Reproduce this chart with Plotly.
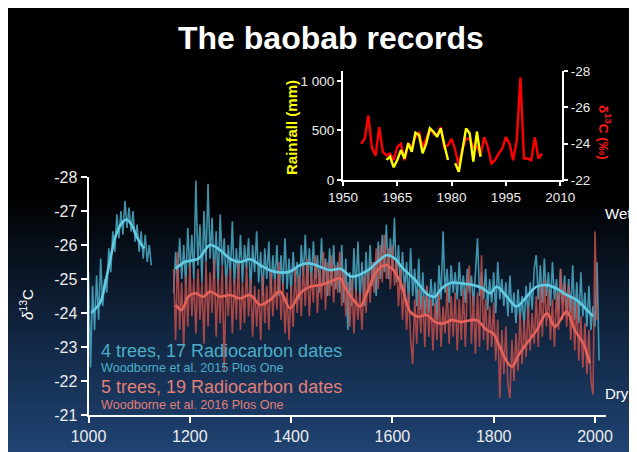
import plotly.graph_objects as go

W, H = 637, 444

# ---------------- DATA ----------------
# main chart: noisy series at 4-year steps
blue_early_start = 1000
blue_early = [-25.2, -22.4, -24.8, -23.5, -25.1, -23.8, -25.6, -24.2, -25.0, -24.6,
              -25.9, -25.2, -26.4, -25.8, -26.9, -26.2, -27.0, -26.3, -27.3, -26.5,
              -27.1, -26.4, -27.0, -26.1, -26.6, -25.8, -26.4, -25.6, -26.3, -25.5,
              -26.0, -25.4]

blue_late_start = 1168
blue_late = [
    -24.6, -25.8, -24.9, -26.2, -25.0, -26.0, -24.8, -26.5, -25.2, -26.3,
    -25.0, -27.9, -25.4, -26.6, -24.9, -27.0, -25.5, -27.8, -25.6, -26.8,
    -25.0, -26.4, -24.8, -26.9, -25.4, -26.2, -24.7, -26.0, -25.1, -26.7,
    -24.8, -25.9, -25.0, -26.3, -24.9, -26.0, -25.3, -26.2, -24.6, -26.0,
    -25.2, -26.4, -24.9, -25.8, -24.5, -25.9, -25.0, -26.1, -24.6, -25.7,
    -24.9, -26.0, -24.5, -25.7, -24.8, -26.2, -24.7, -25.6, -24.6, -25.8,
    -24.9, -25.5, -24.4, -26.0, -25.1, -26.3, -24.8, -25.9, -24.9, -26.1,
    -25.0, -25.7, -24.6, -26.2, -24.9, -25.6, -24.5, -25.9, -24.8, -26.0,
    -24.7, -25.5, -24.6, -26.0, -24.3, -25.6, -23.5, -25.2, -24.2, -25.9,
    -24.6, -26.1, -24.4, -25.5, -24.2, -25.8, -24.6, -26.0, -24.8, -25.5,
    -24.5, -26.1, -25.0, -26.3, -25.2, -26.6, -25.0, -26.2, -25.3, -26.8,
    -24.9, -26.0, -24.7, -25.8, -24.6, -25.5, -24.3, -25.9, -24.5, -25.3,
    -24.2, -25.6, -24.1, -25.2, -23.9, -24.8, -24.0, -25.0, -24.2, -24.9,
    -23.8, -25.4, -24.4, -26.4, -24.6, -25.3, -24.3, -25.4, -24.6, -25.2,
    -24.4, -25.5, -24.5, -25.1, -24.3, -25.3, -24.6, -25.1, -24.2, -25.4,
    -26.2, -24.5, -25.2, -24.4, -25.3, -24.1, -25.0, -24.3, -25.2, -24.0,
    -25.5, -24.4, -25.0, -24.2, -24.9, -23.9, -25.1, -24.0, -24.6, -23.7,
    -24.7, -23.8, -24.5, -23.6, -24.8, -23.9, -24.9, -24.1, -25.3, -25.7,
    -24.4, -25.4, -24.3, -25.6, -24.5, -25.2, -24.2, -25.5, -24.4, -25.0,
    -24.1, -25.3, -24.3, -25.1, -23.9, -25.0, -24.0, -25.4, -23.8, -24.9,
    -23.7, -25.2, -23.9, -24.6, -23.6, -24.8, -23.5, -24.2, -23.6, -25.5,
    -22.6]

red_start = 1168
red_noisy = [
    -25.3, -23.2, -25.8, -23.5, -24.9, -23.0, -25.1, -23.6, -25.4, -23.9,
    -25.0, -23.4, -25.3, -23.8, -24.9, -23.1, -25.5, -23.6, -25.2, -24.0,
    -25.6, -23.3, -25.0, -23.7, -25.4, -22.3, -25.1, -23.9, -25.3, -23.4,
    -25.0, -23.8, -25.5, -23.5, -24.9, -23.7, -25.4, -23.9, -25.0, -23.3,
    -24.8, -23.6, -24.7, -23.2, -25.1, -23.7, -24.8, -23.5, -25.2, -23.9,
    -25.0, -24.1, -25.5, -23.8, -24.9, -23.4, -24.6, -23.2, -24.8, -23.6,
    -25.3, -24.0, -25.1, -23.9, -25.4, -24.2, -25.6, -23.9, -25.2, -24.3,
    -25.7, -24.0, -25.3, -24.4, -25.8, -24.1, -25.5, -24.5, -25.7, -24.3,
    -25.4, -24.6, -25.8, -24.2, -25.3, -23.9, -24.9, -23.6, -25.0, -23.4,
    -24.7, -23.8, -24.6, -23.5, -25.1, -24.0, -25.2, -24.3, -25.5, -24.6,
    -25.9, -24.7, -26.0, -24.9, -26.3, -25.0, -25.9, -24.7, -26.0, -24.8,
    -25.6, -24.2, -25.3, -23.8, -24.9, -23.5, -24.6, -23.2, -22.5, -24.4,
    -23.1, -24.7, -23.4, -24.5, -23.0, -24.8, -23.3, -24.4, -22.9, -24.3,
    -23.2, -24.6, -23.0, -24.2, -23.4, -24.8, -23.1, -24.5, -23.3, -24.6,
    -22.9, -24.4, -23.2, -24.7, -23.0, -24.9, -25.4, -23.1, -24.5, -22.8,
    -24.6, -23.0, -25.7, -23.2, -24.4, -22.9, -24.2, -23.0, -24.3, -22.6,
    -23.8, -21.5, -23.5, -22.2, -23.6, -21.9, -21.5, -23.2, -22.0, -23.4,
    -22.3, -24.0, -22.5, -23.8, -22.7, -24.2, -22.9, -24.0, -23.1, -24.5,
    -23.0, -24.8, -23.3, -25.0, -23.6, -24.7, -23.2, -24.4, -23.0, -24.6,
    -23.5, -25.3, -23.8, -24.9, -23.6, -24.8, -23.2, -24.5, -22.9, -24.3,
    -22.6, -23.9, -22.4, -23.7, -22.2, -23.5, -22.0, -21.6, -26.4, -23.8]

# smoothed curves (hand-read points)
blue_smooth1_years = [1005, 1012, 1023, 1032, 1039, 1046, 1052, 1060, 1066, 1075,
                      1085, 1095, 1105, 1110]
blue_smooth1_vals = [-24.0, -24.1, -24.3, -24.8, -25.3, -25.8, -26.2, -26.5, -26.65, -26.75,
                     -26.6, -26.25, -26.0, -25.9]

blue_smooth2_years = [1172, 1190, 1217, 1240, 1260, 1279, 1299, 1319, 1339, 1358,
                      1378, 1398, 1418, 1437, 1457, 1477, 1497, 1520, 1552, 1570,
                      1589, 1605, 1618, 1645, 1671, 1684, 1697, 1717, 1737, 1760,
                      1779, 1793, 1806, 1826, 1845, 1865, 1884, 1905, 1924, 1944,
                      1964, 1984, 1996]
blue_smooth2_vals = [-25.3, -25.5, -25.6, -26.0, -25.85, -25.6, -25.5, -25.58, -25.41, -25.26,
                     -25.19, -25.22, -25.41, -25.46, -25.36, -25.26, -25.3, -25.07, -25.26, -25.5,
                     -25.7, -25.6, -25.36, -24.97, -24.53, -24.48, -24.72, -24.89, -24.87, -24.82,
                     -24.72, -24.58, -24.77, -24.48, -24.19, -24.48, -24.77, -24.82, -24.72, -24.53,
                     -24.38, -24.09, -23.9]

red_smooth_years = [1172, 1184, 1197, 1210, 1227, 1240, 1260, 1279, 1299, 1319,
                    1339, 1358, 1378, 1398, 1418, 1437, 1457, 1477, 1497, 1506,
                    1526, 1536, 1552, 1569, 1585, 1602, 1618, 1635, 1651, 1668,
                    1684, 1700, 1717, 1737, 1766, 1786, 1799, 1812, 1826, 1836,
                    1849, 1865, 1885, 1905, 1921, 1944, 1960, 1977, 1990]
red_smooth_vals = [-24.24, -24.09, -24.48, -24.58, -24.48, -24.63, -24.48, -24.53, -24.43, -24.53,
                   -24.24, -24.38, -24.63, -24.14, -24.58, -24.77, -24.82, -24.92, -25.02, -24.77,
                   -24.33, -24.19, -24.68, -25.22, -25.41, -25.26, -24.82, -24.04, -23.89, -23.94,
                   -23.74, -23.69, -23.79, -23.74, -23.79, -23.5, -23.4, -23.0, -22.57, -22.42,
                   -22.76, -23.1, -23.5, -23.99, -23.6, -24.04, -23.5, -23.1, -22.52]

main_x_ticks = [1000, 1200, 1400, 1600, 1800, 2000]
main_y_ticks = [-28, -27, -26, -25, -24, -23, -22, -21]
main_y_labels = ["-28", "-27", "-26", "-25", "-24", "-23", "-22", "-21"]

# inset: annual values
inset_red_years = list(range(1955, 2006))
inset_red_d13c = [-24.0, -24.27, -25.55, -23.76, -23.33, -24.91, -23.55, -23.36, -23.45, -23.09,
                  -23.82, -24.0, -23.09, -24.0, -23.82, -24.36, -24.64, -23.82, -24.27, -24.82,
                  -24.55, -24.45, -24.91, -23.82, -23.91, -24.27, -23.64, -22.82, -23.73, -24.27,
                  -24.27, -23.82, -23.82, -23.36, -24.36, -23.82, -22.91, -23.09, -23.45, -23.73,
                  -24.36, -24.0, -23.09, -24.18, -27.64, -23.18, -23.18, -23.09, -24.36, -23.18,
                  -23.45]
inset_rain_years = list(range(1962, 1989))
inset_rain_mm = [202, 236, 128, 202, 302, 218, 370, 286, 477, 454,
                 269, 370, 521, 487, 437, 521, 353, 202, None, 168,
                 84, 302, 521, 470, 185, 487, 235]

inset_x_ticks = [1950, 1965, 1980, 1995, 2010]
inset_rain_ticks = [0, 500, 1000]
inset_rain_labels = ["0", "500", "1 000"]
inset_d13c_ticks = [-28, -26, -24, -22]
inset_d13c_labels = ["-28", "-26", "-24", "-22"]

# ---------------- helpers (screen pixel -> paper; page body has an 8px margin) ----------------
OFF = 8

def px(x):
    return (x - OFF) / W

def py(y):
    return 1 - (y - OFF) / H

FONT = "Liberation Sans, Arial, sans-serif"

blue_early_years = [blue_early_start + 4 * i for i in range(len(blue_early))]
blue_late_years = [blue_late_start + 4 * i for i in range(len(blue_late))]
red_years = [red_start + 4 * i for i in range(len(red_noisy))]

fig = go.Figure()

BLUE_N = "rgba(75,170,196,0.85)"
RED_N = "rgba(196,78,74,0.85)"
BLUE_S = "#62cbe2"
RED_S = "#e4625a"

fig.add_trace(go.Scatter(x=blue_early_years, y=blue_early, mode="lines",
                         line=dict(color=BLUE_N, width=1.6), xaxis="x", yaxis="y"))
fig.add_trace(go.Scatter(x=blue_late_years, y=blue_late, mode="lines",
                         line=dict(color=BLUE_N, width=1.6), xaxis="x", yaxis="y"))
fig.add_trace(go.Scatter(x=red_years, y=red_noisy, mode="lines",
                         line=dict(color=RED_N, width=1.6), xaxis="x", yaxis="y"))
fig.add_trace(go.Scatter(x=blue_smooth1_years, y=blue_smooth1_vals, mode="lines",
                         line=dict(color=BLUE_S, width=2.6, shape="spline"), xaxis="x", yaxis="y"))
fig.add_trace(go.Scatter(x=blue_smooth2_years, y=blue_smooth2_vals, mode="lines",
                         line=dict(color=BLUE_S, width=2.6, shape="spline"), xaxis="x", yaxis="y"))
fig.add_trace(go.Scatter(x=red_smooth_years, y=red_smooth_vals, mode="lines",
                         line=dict(color=RED_S, width=2.6, shape="spline"), xaxis="x", yaxis="y"))

# inset: red (d13C, right axis y2), yellow (rainfall, left axis y3 overlay on top)
fig.add_trace(go.Scatter(x=inset_red_years, y=inset_red_d13c, mode="lines",
                         line=dict(color="#ff0000", width=2.4), xaxis="x2", yaxis="y2"))
fig.add_trace(go.Scatter(x=inset_rain_years, y=inset_rain_mm, mode="lines",
                         line=dict(color="#ffff00", width=2.4), xaxis="x2", yaxis="y3",
                         connectgaps=False))

# ---------------- background shapes ----------------
shapes = []
shapes.append(dict(type="rect", xref="paper", yref="paper", x0=0, x1=1, y0=0, y1=1,
                   fillcolor="#000000", line=dict(width=0), layer="below"))
g0, g1 = 200, H + OFF
step = 3
end_col = (31, 67, 115)
yy = g0
while yy < g1:
    f = ((yy + step / 2) - g0) / (g1 - g0)
    f = max(0.0, min(1.0, f)) ** 0.9
    c = tuple(int(round(v * f)) for v in end_col)
    shapes.append(dict(type="rect", xref="paper", yref="paper", x0=0, x1=1,
                       y0=max(0.0, py(yy + step + 0.5)), y1=py(yy),
                       fillcolor="rgb(%d,%d,%d)" % c, line=dict(width=0), layer="below"))
    yy += step

# ---------------- annotations ----------------
ann = []
ann.append(dict(text="<b>The baobab records</b>", x=px(331), y=py(38), xref="paper", yref="paper",
                showarrow=False, xanchor="center", yanchor="middle",
                font=dict(family=FONT, size=32, color="#ffffff")))
ann.append(dict(text="4 trees, 17 Radiocarbon dates", x=px(99), y=py(351), xref="paper", yref="paper",
                showarrow=False, xanchor="left", yanchor="middle",
                font=dict(family=FONT, size=18, color="#4cadc8")))
ann.append(dict(text="Woodborne et al. 2015 Plos One", x=px(99), y=py(368), xref="paper", yref="paper",
                showarrow=False, xanchor="left", yanchor="middle",
                font=dict(family=FONT, size=12.6, color="#4cadc8")))
ann.append(dict(text="5 trees, 19 Radiocarbon dates", x=px(99), y=py(387), xref="paper", yref="paper",
                showarrow=False, xanchor="left", yanchor="middle",
                font=dict(family=FONT, size=18, color="#e07f78")))
ann.append(dict(text="Woodborne et al. 2016 Plos One", x=px(99), y=py(405), xref="paper", yref="paper",
                showarrow=False, xanchor="left", yanchor="middle",
                font=dict(family=FONT, size=12.6, color="#e07f78")))
ann.append(dict(text="<i>δ</i><sup>13</sup>C", x=px(26), y=py(305), xref="paper", yref="paper",
                showarrow=False, textangle=-90, xanchor="center", yanchor="middle",
                font=dict(family=FONT, size=15, color="#ffffff")))
ann.append(dict(text="Wet", x=px(603), y=py(213), xref="paper", yref="paper",
                showarrow=False, xanchor="left", yanchor="middle",
                font=dict(family=FONT, size=15, color="#ffffff")))
ann.append(dict(text="Dry", x=px(603), y=py(393), xref="paper", yref="paper",
                showarrow=False, xanchor="left", yanchor="middle",
                font=dict(family=FONT, size=15, color="#ffffff")))
ann.append(dict(text="<b>Rainfall (mm)</b>", x=px(291), y=py(128), xref="paper", yref="paper",
                showarrow=False, textangle=-90, xanchor="center", yanchor="middle",
                font=dict(family=FONT, size=15, color="#ffff00")))
ann.append(dict(text="<b>δ<sup>13</sup>C (‰)</b>", x=px(605), y=py(132), xref="paper", yref="paper",
                showarrow=False, textangle=90, xanchor="center", yanchor="middle",
                font=dict(family=FONT, size=13.5, color="#ff1a1a")))

axis_common = dict(showline=True, linecolor="#ffffff", linewidth=2, ticks="outside",
                   tickcolor="#ffffff", tickwidth=2, showgrid=False, zeroline=False,
                   automargin=False)

fig.update_layout(
    template="none",
    width=W, height=H,
    autosize=False,
    margin=dict(l=0, r=0, t=0, b=0, pad=0, autoexpand=False),
    paper_bgcolor="#000000",
    plot_bgcolor="rgba(0,0,0,0)",
    showlegend=False,
    shapes=shapes,
    annotations=ann,
    xaxis=dict(domain=[px(88.5), px(606)], range=[1000, 2021.7], anchor="y",
               tickvals=main_x_ticks, ticklen=6,
               tickfont=dict(family=FONT, size=16, color="#ececec"), **axis_common),
    yaxis=dict(domain=[py(415), py(177)], range=[-21, -28], anchor="x",
               tickvals=main_y_ticks, ticktext=main_y_labels, ticklen=6,
               tickfont=dict(family=FONT, size=16, color="#ececec"), **axis_common),
    xaxis2=dict(domain=[px(343), px(562)], range=[1950, 2010.5], anchor="y2",
                tickvals=inset_x_ticks, ticklen=4,
                tickfont=dict(family=FONT, size=13.5, color="#ececec"), **axis_common),
    yaxis2=dict(domain=[py(180), py(71)], range=[-22, -28], anchor="x2", side="right",
                tickvals=inset_d13c_ticks, ticktext=inset_d13c_labels, ticklen=4,
                tickfont=dict(family=FONT, size=13.5, color="#ececec"), **axis_common),
    yaxis3=dict(range=[0, 1100], anchor="x2", overlaying="y2", side="left",
                tickvals=inset_rain_ticks, ticktext=inset_rain_labels, ticklen=4,
                tickfont=dict(family=FONT, size=13.5, color="#ececec"), **axis_common),
)

fig.write_html("out.html")
